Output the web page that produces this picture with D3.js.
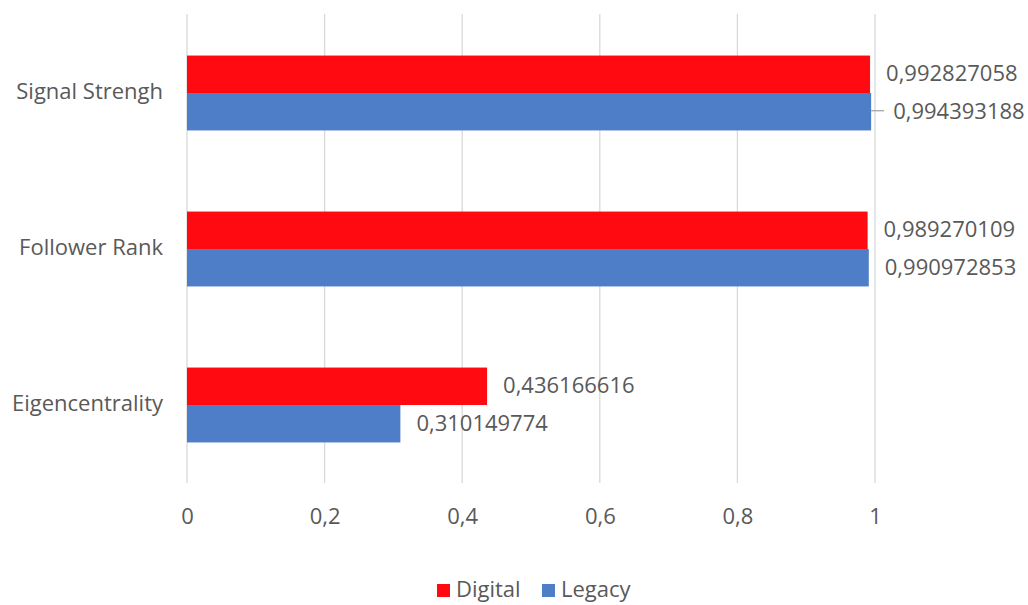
<!DOCTYPE html>
<html>
<head>
<meta charset="utf-8">
<script src="https://cdn.jsdelivr.net/npm/d3@7"></script>
<style>
  body { margin: 0; background: #fff; }
  text { font-family: "Open Sans", sans-serif; fill: #595959; }
</style>
</head>
<body>
<div id="chart"></div>
<script>
const categories = ['Signal Strengh', 'Follower Rank', 'Eigencentrality'];
const seriesNames = ['Digital', 'Legacy'];
const digital = [0.992827058, 0.989270109, 0.436166616];
const legacy = [0.994393188, 0.990972853, 0.310149774];
const xTicks = [0, 0.2, 0.4, 0.6, 0.8, 1];
const colors = { Digital: '#FF0A10', Legacy: '#4F7EC9' };

// label that Excel pushed aside with a leader line
const leaderLabels = [['Signal Strengh', 'Legacy']];

const width = 1028, height = 605;
const margin = { top: 15, right: 153, bottom: 122, left: 187 };
const innerW = width - margin.left - margin.right;
const innerH = height - margin.top - margin.bottom;

const svg = d3.select('#chart').append('svg')
  .attr('width', width)
  .attr('height', height);

const g = svg.append('g')
  .attr('transform', `translate(${margin.left},${margin.top})`);

const x = d3.scaleLinear().domain([0, 1]).range([0, innerW]);

const y = d3.scaleBand()
  .domain(categories)
  .range([0, innerH])
  .paddingInner(0.52)
  .paddingOuter(0.26);

const ySub = d3.scaleBand()
  .domain(seriesNames)
  .range([0, y.bandwidth()]);

const fmt = v => String(v).replace('.', ',');

// gridlines
g.append('g')
  .selectAll('line')
  .data(xTicks)
  .enter().append('line')
  .attr('x1', d => x(d))
  .attr('x2', d => x(d))
  .attr('y1', -1)
  .attr('y2', innerH)
  .attr('stroke', '#d9d9d9')
  .attr('stroke-width', 1.3);

// x axis labels
const xAxis = g.append('g')
  .attr('transform', `translate(0,${innerH})`)
  .call(d3.axisBottom(x).tickValues(xTicks).tickFormat(d => fmt(d)).tickSize(0).tickPadding(25));
xAxis.select('.domain').remove();
xAxis.selectAll('text')
  .style('font-family', '"Open Sans", sans-serif')
  .style('font-size', '22px')
  .attr('fill', '#595959');

// y axis labels
const yAxis = g.append('g')
  .call(d3.axisLeft(y).tickSize(0).tickPadding(24));
yAxis.select('.domain').remove();
yAxis.selectAll('text')
  .style('font-family', '"Open Sans", sans-serif')
  .style('font-size', '22px')
  .attr('fill', '#595959')
  .attr('dy', '0.28em');

const rows = [];
categories.forEach((c, i) => {
  rows.push({ cat: c, series: 'Digital', value: digital[i] });
  rows.push({ cat: c, series: 'Legacy', value: legacy[i] });
});

const isLeader = d => leaderLabels.some(l => l[0] === d.cat && l[1] === d.series);

g.selectAll('.bar')
  .data(rows)
  .enter().append('rect')
  .attr('class', 'bar')
  .attr('x', x(0))
  .attr('y', d => y(d.cat) + ySub(d.series))
  .attr('width', d => x(d.value) - x(0))
  .attr('height', ySub.bandwidth())
  .attr('fill', d => colors[d.series]);

// leader lines
g.selectAll('.leader')
  .data(rows.filter(isLeader))
  .enter().append('line')
  .attr('class', 'leader')
  .attr('x1', d => x(d.value))
  .attr('x2', d => x(d.value) + 13)
  .attr('y1', d => y(d.cat) + ySub(d.series) + ySub.bandwidth() / 2 - 1)
  .attr('y2', d => y(d.cat) + ySub(d.series) + ySub.bandwidth() / 2 - 1)
  .attr('stroke', '#a6a6a6')
  .attr('stroke-width', 1.3);

// value labels
g.selectAll('.value')
  .data(rows)
  .enter().append('text')
  .attr('class', 'value')
  .attr('x', d => x(d.value) + (isLeader(d) ? 22 : 16))
  .attr('y', d => y(d.cat) + ySub(d.series) + ySub.bandwidth() / 2 - 1)
  .attr('dy', '0.36em')
  .style('font-size', '22px')
  .text(d => fmt(d.value));

// legend
const legend = svg.append('g')
  .attr('transform', `translate(437,589)`);
const items = legend.selectAll('g')
  .data(seriesNames)
  .enter().append('g')
  .attr('transform', (d, i) => `translate(${i * 105},0)`);
items.append('rect')
  .attr('x', 0)
  .attr('y', -5)
  .attr('width', 13)
  .attr('height', 13)
  .attr('fill', d => colors[d]);
items.append('text')
  .attr('x', 19)
  .attr('y', 0)
  .attr('dy', '0.36em')
  .style('font-size', '22px')
  .text(d => d);
</script>
</body>
</html>
